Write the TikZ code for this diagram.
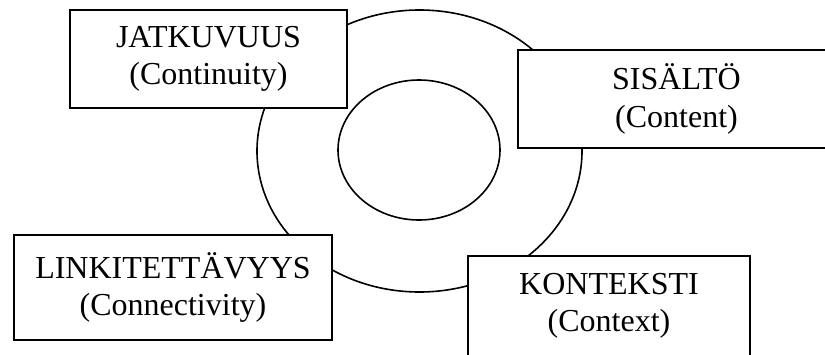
\documentclass[tikz,border=0pt]{standalone}
\usepackage{fontspec}
\setmainfont{Liberation Serif}
\begin{document}
\begin{tikzpicture}[x=1pt,y=-1pt,
  ring/.style={draw=black,line width=1.6pt},
  labelbox/.style={draw=black,fill=white,line width=1.9pt,inner sep=0pt,align=center,
    font=\fontsize{32}{37.5}\selectfont}]
\useasboundingbox (0,0) rectangle (825,354);
\clip (0,0) rectangle (825,354);
\draw[ring] (419.5,151) ellipse [x radius=162.5pt, y radius=141pt];
\draw[ring] (419,150) ellipse [x radius=81pt, y radius=70pt];
\node[labelbox,minimum width=277pt,minimum height=98pt] (jat) at (208.5,59) {JATKUVUUS\\(Continuity)};
\node[labelbox,minimum width=317pt,minimum height=98pt] (sis) at (676.5,99) {SISÄLTÖ\\(Content)};
\node[labelbox,minimum width=318pt,minimum height=105pt] (link) at (173,287.5) {LINKITETTÄVYYS\\(Connectivity)};
\node[labelbox,minimum width=282pt,minimum height=100pt] (kon) at (609,306) {KONTEKSTI\\(Context)};
\end{tikzpicture}
\end{document}
